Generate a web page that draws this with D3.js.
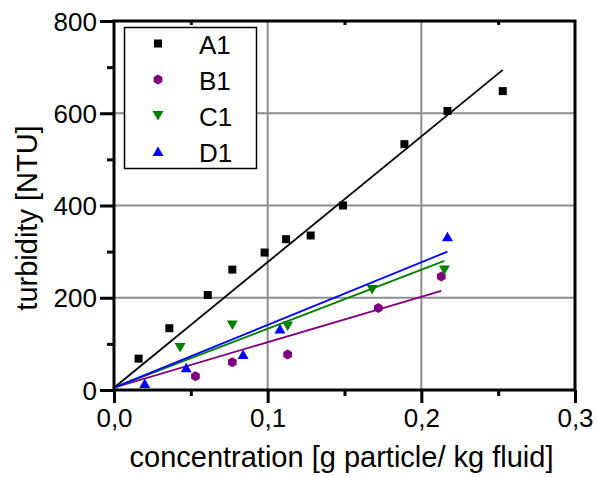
<!DOCTYPE html>
<html>
<head>
<meta charset="utf-8">
<script src="https://cdn.jsdelivr.net/npm/d3@7"></script>
<style>
  body { margin: 0; background: #fff; }
  svg { font-family: "Liberation Sans", Arial, sans-serif; }
</style>
</head>
<body>
<div id="container"></div>
<script>
/* CONSTANTS AND GLOBALS */
const width = 597,
  height = 477,
  plotLeft = 114, plotRight = 575, plotTop = 21, plotBottom = 390;

/* DATA */
const seriesNames = ["A1", "B1", "C1", "D1"];
const seriesColors = ["#000000", "#800080", "#008000", "#0000ff"];
const seriesShapes = ["square", "hexagon", "down", "up"];

const concA1 = [0.016, 0.036, 0.061, 0.077, 0.098, 0.112, 0.128, 0.149, 0.189, 0.217, 0.253];
const turbA1 = [68, 134, 206, 261, 298, 327, 335, 400, 533, 605, 648];
const concB1 = [0.053, 0.077, 0.113, 0.172, 0.213];
const turbB1 = [30, 60, 77, 178, 246];
const concC1 = [0.043, 0.077, 0.113, 0.168, 0.215];
const turbC1 = [92, 141, 139, 218, 260];
const concD1 = [0.020, 0.047, 0.084, 0.108, 0.217];
const turbD1 = [14, 48, 77, 132, 332];

// linear fit lines: [start, end] in data units
const fitX = [[0, 0.253], [0, 0.213], [0, 0.215], [0, 0.217]];
const fitY = [[5, 694], [5, 215], [5, 280], [5, 300]];

const xTicks = [0, 0.1, 0.2, 0.3];
const xMinor = [0.05, 0.15, 0.25];
const yTicks = [0, 200, 400, 600, 800];
const yMinor = [100, 300, 500, 700];

const concs = [concA1, concB1, concC1, concD1];
const turbs = [turbA1, turbB1, turbC1, turbD1];

/* SVG */
const svg = d3.select("#container")
  .append("svg")
  .attr("width", width)
  .attr("height", height);

/* SCALES */
const xScale = d3.scaleLinear().domain([0, 0.3]).range([plotLeft, plotRight]);
const yScale = d3.scaleLinear().domain([0, 800]).range([plotBottom, plotTop]);

const fmt = d => d3.format(".1f")(d).replace(".", ",");

// grid
svg.append("g")
  .selectAll("line")
  .data(xTicks.slice(1, -1))
  .join("line")
  .attr("x1", d => xScale(d)).attr("x2", d => xScale(d))
  .attr("y1", plotTop).attr("y2", plotBottom)
  .attr("stroke", "#8c8c8c").attr("stroke-width", 2);
svg.append("g")
  .selectAll("line")
  .data(yTicks.slice(1, -1))
  .join("line")
  .attr("x1", plotLeft).attr("x2", plotRight)
  .attr("y1", d => yScale(d)).attr("y2", d => yScale(d))
  .attr("stroke", "#8c8c8c").attr("stroke-width", 2);

// marker shapes
const shapePath = (shape) => {
  if (shape === "square") return "M-4,-4H4V4H-4Z";
  if (shape === "hexagon") {
    const r = 5;
    return d3.range(6).map((i) => {
      const a = Math.PI / 3 * i + Math.PI / 6;
      return (i ? "L" : "M") + (r * Math.cos(a)).toFixed(2) + "," + (r * Math.sin(a)).toFixed(2);
    }).join("") + "Z";
  }
  if (shape === "up") return "M0,-5L5.5,4.5L-5.5,4.5Z";
  return "M0,5L5.5,-4.5L-5.5,-4.5Z";
};

/* FIT LINES */
const line = d3.line().x(d => xScale(d[0])).y(d => yScale(d[1]));
seriesNames.forEach((name, i) => {
  svg.append("path")
    .datum(d3.zip(fitX[i], fitY[i]))
    .attr("d", line)
    .attr("fill", "none")
    .attr("stroke", seriesColors[i])
    .attr("stroke-width", 1.8);
});

/* POINTS */
seriesNames.forEach((name, i) => {
  svg.append("g")
    .selectAll("path")
    .data(d3.zip(concs[i], turbs[i]))
    .join("path")
    .attr("transform", d => `translate(${xScale(d[0])},${yScale(d[1])})`)
    .attr("d", shapePath(seriesShapes[i]))
    .attr("fill", seriesColors[i]);
});

/* AXES */
const styleAxis = g => {
  g.select(".domain").remove();
  g.selectAll(".tick line").attr("stroke", "#000").attr("stroke-width", 3);
  g.selectAll(".tick text").attr("fill", "#000").style("font-size", "26px")
    .style("font-family", "Liberation Sans, Arial, sans-serif");
};

// left axis
svg.append("g")
  .attr("transform", `translate(${plotLeft},0)`)
  .call(d3.axisLeft(yScale).tickValues(yTicks).tickSize(14).tickPadding(3).tickFormat(d3.format("d")))
  .call(styleAxis)
  .call(g => g.selectAll(".tick text").attr("dy", "0.35em"));
svg.append("g")
  .attr("transform", `translate(${plotLeft},0)`)
  .call(d3.axisLeft(yScale).tickValues(yMinor).tickSize(7).tickFormat(""))
  .call(styleAxis);

// bottom axis
svg.append("g")
  .attr("transform", `translate(0,${plotBottom})`)
  .call(d3.axisBottom(xScale).tickValues(xTicks).tickSize(13).tickPadding(24).tickFormat(fmt))
  .call(styleAxis)
  .call(g => g.selectAll(".tick text").attr("dy", "0"));
svg.append("g")
  .attr("transform", `translate(0,${plotBottom})`)
  .call(d3.axisBottom(xScale).tickValues(xMinor).tickSize(6).tickFormat(""))
  .call(styleAxis);

// top axis: small inward minor ticks
svg.append("g")
  .attr("transform", `translate(0,${plotTop})`)
  .call(d3.axisBottom(xScale).tickValues(xMinor).tickSize(4).tickFormat(""))
  .call(styleAxis);

// frame
svg.append("path")
  .attr("d", `M${plotLeft},${plotBottom}V${plotTop}H${plotRight}V${plotBottom}H${plotLeft}`)
  .attr("fill", "none")
  .attr("stroke", "#000")
  .attr("stroke-width", 3)
  .attr("stroke-linecap", "square");

// axis titles
svg.append("text")
  .attr("x", (plotLeft + plotRight) / 2 - 3)
  .attr("y", 467)
  .attr("text-anchor", "middle")
  .style("font-size", "29px")
  .text("concentration [g particle/ kg fluid]");

svg.append("text")
  .attr("transform", "rotate(-90)")
  .attr("x", -218)
  .attr("y", 37)
  .attr("text-anchor", "middle")
  .style("font-size", "29px")
  .text("turbidity [NTU]");

/* LEGEND */
const legend = svg.append("g");
legend.append("rect")
  .attr("x", 124.5).attr("y", 27.5)
  .attr("width", 132).attr("height", 141)
  .attr("fill", "#fff")
  .attr("stroke", "#000")
  .attr("stroke-width", 1.5);

seriesNames.forEach((name, i) => {
  const cy = 43.5 + i * 36;
  legend.append("path")
    .attr("transform", `translate(158,${cy})`)
    .attr("d", shapePath(seriesShapes[i]))
    .attr("fill", seriesColors[i]);
  legend.append("text")
    .attr("x", 199)
    .attr("y", cy + 10)
    .style("font-size", "26px")
    .text(name);
});
</script>
</body>
</html>
